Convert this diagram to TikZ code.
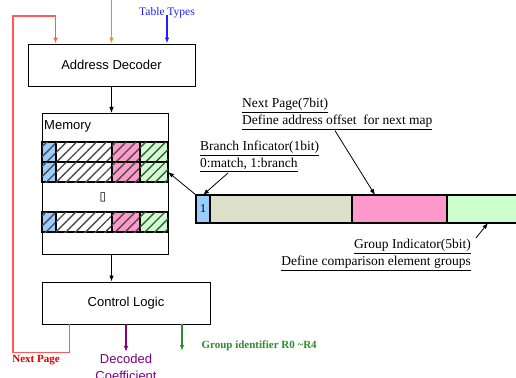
\documentclass[tikz,border=0pt]{standalone}
\usepackage{fontspec}
\setmainfont{Liberation Serif}
\setsansfont{Liberation Sans}
\newfontfamily\symfont{DejaVu Sans}
\usepackage{tikz}
\usetikzlibrary{arrows.meta,positioning,calc,patterns.meta}
\definecolor{Loop}{HTML}{FF5A5A}
\definecolor{Feed}{HTML}{F58233}
\definecolor{TypeBlue}{HTML}{2020FF}
\definecolor{Coef}{HTML}{800080}
\definecolor{GrpGreen}{HTML}{2E8B2E}
\definecolor{BitBlue}{HTML}{99CCFF}
\definecolor{BitGray}{HTML}{DDE0C8}
\definecolor{BitPink}{HTML}{FF99CC}
\definecolor{BitGreen}{HTML}{CCFFCC}
\tikzset{
  block/.style={draw,line width=.9pt,minimum height=42,font=\sffamily\fontsize{13}{15}\selectfont},
  cell/.style={draw,line width=1.6pt,postaction={pattern={Lines[angle=45,distance=7pt,line width=1.4pt]},pattern color=black!70}},
  bitbox/.style={draw,line width=1.2pt,minimum height=28,inner sep=0pt,outer sep=0pt,anchor=west,font=\fontsize{12}{14}\selectfont},
  note/.style={align=left,inner sep=1pt,font=\fontsize{13.5}{17}\selectfont},
  arr/.style={-{Latex[length=6pt,width=4.5pt]},line width=.8pt},
  wire/.style={-{Latex[length=6pt,width=4.5pt]},line width=1.2pt}
}

\begin{document}
\begin{tikzpicture}[x=1pt,y=-1pt]
\useasboundingbox (0,0) rectangle (516,377);
% blocks
\node[block,minimum width=167] (dec) at (111.5,65) {Address Decoder};
\node[block,minimum width=126,minimum height=141,anchor=north west] (mem) at (42,113) {};
\node[anchor=north west,inner sep=2pt,font=\sffamily\fontsize{13}{15}\selectfont] (memlab) at ([yshift=-5pt]mem.north west) {Memory};
\node[block,minimum width=168] (ctrl) at (126,303) {Control Logic};
% memory rows
\foreach \r in {142,162,212}
  \foreach \a/\b/\c in {42/56/BitBlue,56/112/white,112/140/BitPink,140/168/BitGreen}
    \draw[cell,fill=\c] (\a,\r) rectangle (\b,\r+20);
\node[font=\symfont\fontsize{12}{13}\selectfont] (dots) at (103,197) {▯};
\coordinate (rowtwo) at (168,172);
% bit fields
\node[bitbox,fill=BitBlue,minimum width=14] (bitb) at (196,209) {1};
\node[bitbox,fill=BitGray,minimum width=142,right=0pt of bitb] (bitx) {};
\node[bitbox,fill=BitPink,minimum width=95,right=0pt of bitx] (bitn) {};
\node[bitbox,fill=BitGreen,minimum width=100,right=0pt of bitn] (bitg) {};
% notes
\node[note,anchor=north west] (nplab) at (241,97) {\underline{Next Page(7bit)}\\\underline{Define address offset\ \ for next map}};
\node[note,anchor=north west] (brlab) at (199,140) {\underline{Branch Inficator(1bit)}\\\underline{0:match, 1:branch}};
\node[note,anchor=north east,align=right] (grlab) at (472,238) {\underline{Group Indicator(5bit)}\\\underline{Define comparison element groups}};
\draw[arr] ([xshift=94pt]nplab.south west) -- ([xshift=23pt]bitn.north west);
\draw[arr] ([xshift=29pt]brlab.south west) -- (bitb.north);
\draw[arr] ([xshift=4pt]grlab.north east) -- ([xshift=41pt]bitg.south west);
\draw[arr] (bitb.north west) -- (rowtwo);
% inputs
\node[text=TypeBlue,font=\fontsize{11.5}{13}\selectfont] (types) at (167,13) {Table Types};
\draw[wire,Feed] (dec.north |- 0,-2) -- (dec.north);
\draw[wire,TypeBlue] ([yshift=7pt]types.south) -- (types.south |- dec.north);
% flow
\draw[arr] (dec.south) -- (dec.south |- mem.north);
\draw[arr] (dec.south |- mem.south) -- (dec.south |- ctrl.north);
% outputs
\draw[wire,Loop] ([xshift=28pt]ctrl.south west) -- ++(0,28) -| (13,16) -| ([xshift=28pt]dec.north west);
\node[text=red!85!black,font=\bfseries\fontsize{11}{13}\selectfont] (nplbl) at (36,360) {Next Page};
\node[anchor=north,align=center,inner sep=2pt,text=Coef,font=\sffamily\fontsize{13}{17}\selectfont] (coef) at (126,352) {Decoded\\Coefficient};
\draw[wire,Coef] (ctrl.south) -- (coef.north);
\coordinate (grpend) at (182,351);
\draw[wire,GrpGreen] (ctrl.south -| grpend) -- (grpend);
\node[anchor=west,text=GrpGreen,font=\bfseries\fontsize{11}{13}\selectfont] (grpid) at (198,346) {Group identifier R0 \textasciitilde R4};
\end{tikzpicture}
\end{document}
